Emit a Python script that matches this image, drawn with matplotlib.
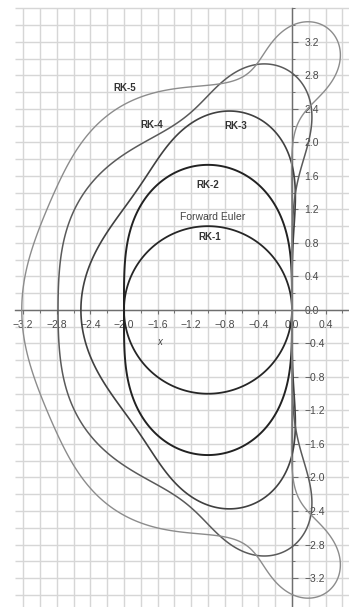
"""
Regioni di stabilita' dei metodi Runge-Kutta espliciti (RK-1 ... RK-5)
nel piano complesso z = h*lambda.
"""

import numpy as np
import matplotlib.pyplot as plt
from matplotlib.ticker import FixedLocator, FuncFormatter

plt.rcParams["font.family"] = ["Liberation Sans", "DejaVu Sans"]

# Coefficienti del polinomio di stabilita' R(z) = sum c_k z^k (ordine crescente)
rk1_coef = [1.0, 1.0]
rk2_coef = [1.0, 1.0, 0.5]
rk3_coef = [1.0, 1.0, 0.5, 0.1666667]
rk4_coef = [1.0, 1.0, 0.5, 0.1666667, 0.0416667]
rk5_coef = [1.0, 1.0, 0.5, 0.1666667, 0.0416667, 0.0083333]

method_names = ["RK-1", "RK-2", "RK-3", "RK-4", "RK-5"]
method_coefs = [rk1_coef, rk2_coef, rk3_coef, rk4_coef, rk5_coef]
method_colors = ["#262626", "#222222", "#404040", "#5a5a5a", "#8c8c8c"]
method_widths = [1.3, 1.4, 1.2, 1.1, 1.0]

# Posizione delle etichette (Re, Im)
label_names = ["RK-5", "RK-4", "RK-3", "RK-2", "RK-1"]
label_re = [-1.99, -1.67, -0.67, -1.00, -0.98]
label_im = [2.65, 2.21, 2.20, 1.49, 0.87]

x_ticks = [-3.2, -2.8, -2.4, -2.0, -1.6, -1.2, -0.8, -0.4, 0.0, 0.4]
y_ticks = [-3.2, -2.8, -2.4, -2.0, -1.6, -1.2, -0.8, -0.4, 0.0,
           0.4, 0.8, 1.2, 1.6, 2.0, 2.4, 2.8, 3.2]

fig = plt.figure(figsize=(3.49, 6.07), dpi=100)
ax = fig.add_axes([0, 0, 1, 1])
ax.set_xlim(-3.476, 0.679)
ax.set_ylim(-3.546, 3.70)

# Griglia a passo 0.2
grid_x = np.round(np.arange(-3.2, 0.61, 0.2), 1)
grid_y = np.round(np.arange(-3.4, 3.61, 0.2), 1)
ax.vlines(grid_x, -3.7, 3.6, color="#d6d6d6", linewidth=1.0, zorder=0)
ax.hlines(grid_y, -3.3, 0.7, color="#d6d6d6", linewidth=1.0, zorder=0)

# Curve |R(z)| = 1
re = np.linspace(-3.6, 0.8, 900)
im = np.linspace(-3.8, 3.8, 1500)
RE, IM = np.meshgrid(re, im)
Z = RE + 1j * IM
for name, coef, color, lw in zip(method_names, method_coefs,
                                 method_colors, method_widths):
    R = np.polynomial.polynomial.polyval(Z, coef)
    ax.contour(RE, IM, np.abs(R), levels=[1.0], colors=[color],
               linewidths=lw, zorder=3)

# Assi passanti per l'origine
for side in ["top", "left"]:
    ax.spines[side].set_visible(False)
ax.spines["bottom"].set_position(("data", 0))
ax.spines["right"].set_position(("data", 0))
ax.spines["bottom"].set_bounds(-3.3, 0.7)
ax.spines["right"].set_bounds(-3.7, 3.6)
for side in ["bottom", "right"]:
    ax.spines[side].set_color("#6e6e6e")
    ax.spines[side].set_linewidth(1.0)
    ax.spines[side].set_zorder(2)

ax.yaxis.tick_right()
ax.set_xticks(x_ticks)
ax.set_yticks(y_ticks)
ax.xaxis.set_minor_locator(FixedLocator(grid_x))
ax.yaxis.set_minor_locator(FixedLocator(grid_y))


def fmt(v, pos):
    if abs(v) < 1e-9:
        return "0.0"
    return f"{v:.1f}".replace("-", "\u2212")


ax.xaxis.set_major_formatter(FuncFormatter(fmt))
ax.yaxis.set_major_formatter(FuncFormatter(fmt))
ax.tick_params(axis="both", which="major", direction="out", length=3,
               width=0.8, color="#6e6e6e", labelsize=7.5, labelcolor="#4a4a4a",
               pad=4.5)
ax.tick_params(axis="both", which="minor", direction="out", length=2,
               width=0.7, color="#6e6e6e")
ax.tick_params(axis="y", which="major", length=4, pad=5)

# Etichette delle curve
for name, xr, yi in zip(label_names, label_re, label_im):
    ax.text(xr, yi, name, fontsize=7, fontweight="bold", color="#333333",
            ha="center", va="center", zorder=4)
ax.text(-0.94, 1.11, "Forward Euler", fontsize=7.5, color="#444444",
        ha="center", va="center", zorder=4)
ax.text(-1.57, -0.38, "x", fontsize=7, style="italic", color="#444444",
        ha="center", va="center")

fig.savefig("out.png", dpi=100)
